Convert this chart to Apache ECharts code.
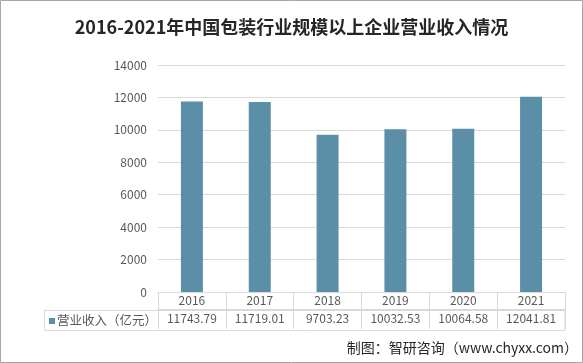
<!DOCTYPE html>
<html>
<head>
<meta charset="utf-8">
<script src="https://cdn.jsdelivr.net/npm/echarts@6/dist/echarts.min.js"></script>
<style>html,body{margin:0;padding:0;background:#fff}#c{width:583px;height:363px}</style>
</head>
<body>
<div id="c"></div>
<script>
const titleText = '2016-2021年中国包装行业规模以上企业营业收入情况';
const categories = ['2016', '2017', '2018', '2019', '2020', '2021'];
const seriesName = '营业收入（亿元）';
const revenue = [11743.79, 11719.01, 9703.23, 10032.53, 10064.58, 12041.81];
const yTicks = [0, 2000, 4000, 6000, 8000, 10000, 12000, 14000];
const sourceText = '制图：智研咨询（www.chyxx.com）';

const barColor = '#5b8fa8';
const lineColor = '#d9d9d9';
const textColor = '#595959';
const font = '"Noto Sans CJK SC", "Noto Sans", sans-serif';

const chart = echarts.init(document.getElementById('c'), null, {renderer: 'canvas'});
chart.setOption({
  animation: false,
  backgroundColor: '#fff',
  textStyle: {fontFamily: font},
  title: {
    text: titleText, left: 'center', top: 13,
    textStyle: {fontSize: 18, fontWeight: 'bold', color: '#262626', fontFamily: font}
  },
  grid: {left: 158, right: 18, top: 65, bottom: 71, containLabel: false},
  xAxis: [{
    type: 'category', data: categories, position: 'bottom',
    axisLine: {show: true, lineStyle: {color: lineColor}},
    axisTick: {show: true, length: 17, lineStyle: {color: lineColor}},
    axisLabel: {color: textColor, fontSize: 12, margin: 2, fontFamily: font}
  }, {
    type: 'category', data: revenue.map(v => v.toFixed(2)), position: 'bottom', offset: 17,
    axisLine: {show: true, lineStyle: {color: lineColor}},
    axisTick: {show: true, length: 20, lineStyle: {color: lineColor}},
    axisLabel: {color: textColor, fontSize: 12, margin: 3, fontFamily: font}
  }],
  yAxis: {
    type: 'value', min: yTicks[0], max: yTicks[yTicks.length - 1], interval: yTicks[1] - yTicks[0],
    axisLine: {show: false}, axisTick: {show: false},
    axisLabel: {color: textColor, fontSize: 12, margin: 11, fontFamily: font, formatter: v => String(v)},
    splitLine: {lineStyle: {color: lineColor}}
  },
  series: [{
    name: seriesName, type: 'bar', data: revenue, xAxisIndex: 0,
    barWidth: 22, itemStyle: {color: barColor}
  }],
  graphic: [
    {type: 'rect', shape: {x: 0.5, y: 0.5, width: 582, height: 362}, style: {fill: null, stroke: '#a6a6a6', lineWidth: 1}, silent: true},
    {type: 'rect', shape: {x: 44.5, y: 310.5, width: 520.5, height: 20}, style: {fill: null, stroke: lineColor, lineWidth: 1}, silent: true},
    {type: 'rect', shape: {x: 49, y: 318, width: 6, height: 6}, style: {fill: barColor}, silent: true},
    {type: 'text', x: 57, y: 320.5, style: {text: seriesName, fill: textColor, fontSize: 12.5, fontFamily: font, verticalAlign: 'middle'}, silent: true},
    {type: 'text', right: 5, top: 341, style: {text: sourceText, fill: '#262626', fontSize: 14, fontFamily: font}, silent: true}
  ]
});
</script>
</body>
</html>
